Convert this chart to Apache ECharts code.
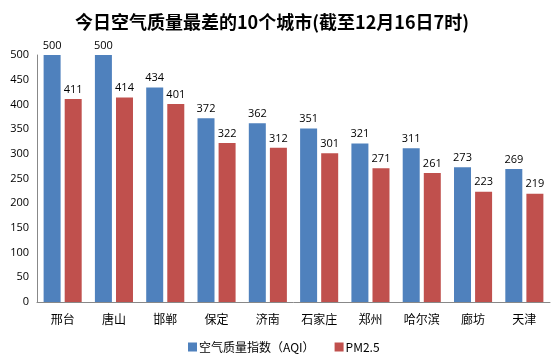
<!DOCTYPE html>
<html><head><meta charset="utf-8">
<script src="https://cdn.jsdelivr.net/npm/echarts@6/dist/echarts.min.js"></script>
<style>html,body{margin:0;padding:0;background:#fff}#c{width:551px;height:360px}</style>
</head><body><div id="c"></div>
<script>
var categories = ['邢台','唐山','邯郸','保定','济南','石家庄','郑州','哈尔滨','廊坊','天津'];
var aqi = [500,500,434,372,362,351,321,311,273,269];
var pm25 = [411,414,401,322,312,301,271,261,223,219];
var yTicks = [0,50,100,150,200,250,300,350,400,450,500];
var font = '"Noto Sans CJK SC", sans-serif';
var chart = echarts.init(document.getElementById('c'));
chart.setOption({
  animation:false,
  title:{text:'今日空气质量最差的10个城市(截至12月16日7时)',left:70,top:8,
    textStyle:{fontSize:18,fontWeight:'bold',color:'#000',fontFamily:font}},
  legend:{bottom:2,left:183,itemWidth:9,itemHeight:9,itemGap:20,icon:'rect',
    textStyle:{fontSize:12,color:'#000',fontFamily:font,padding:[0,0,0,-3]}},
  grid:{left:37,right:1,top:55,bottom:58,containLabel:false},
  xAxis:{type:'category',data:categories,
    axisLine:{lineStyle:{color:'#888'}},axisTick:{show:false},
    axisLabel:{fontSize:12,color:'#000',margin:11,fontFamily:font}},
  yAxis:{type:'value',min:0,max:500,interval:50,
    axisLine:{show:true,lineStyle:{color:'#888'}},axisTick:{show:false},splitLine:{show:false},
    axisLabel:{fontSize:11,color:'#000',margin:8,fontFamily:'"Open Sans", sans-serif'}},
  series:[
    {name:'空气质量指数（AQI）',type:'bar',data:aqi,barWidth:17,barGap:'24%',
     itemStyle:{color:'#4F81BD'},
     label:{show:true,position:'top',fontSize:11,color:'#000',distance:4,fontFamily:'"Open Sans", sans-serif'}},
    {name:'PM2.5',type:'bar',data:pm25,barWidth:17,
     itemStyle:{color:'#C0504D'},
     label:{show:true,position:'top',fontSize:11,color:'#000',distance:4,fontFamily:'"Open Sans", sans-serif'}}
  ]
});
</script></body></html>
